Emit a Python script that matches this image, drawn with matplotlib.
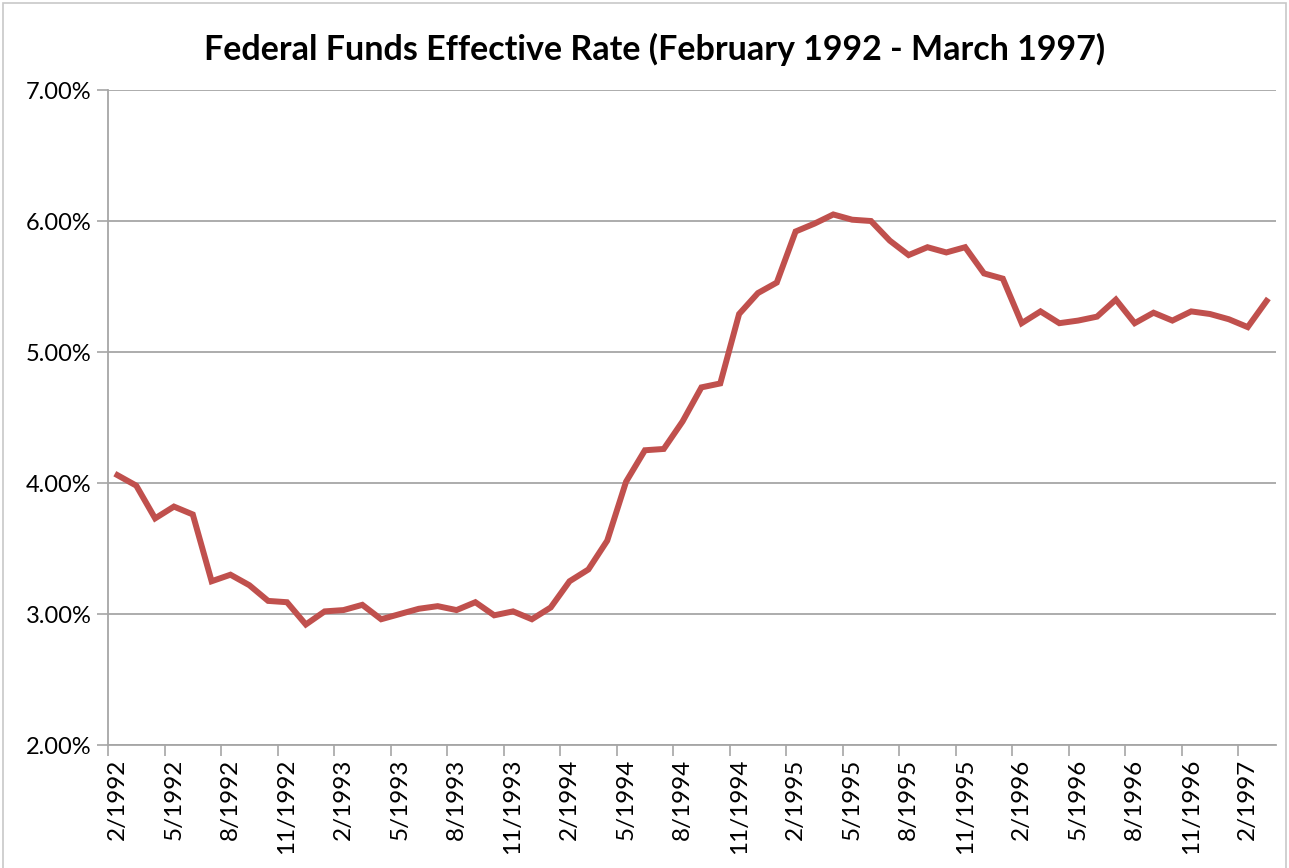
import matplotlib.pyplot as plt
from matplotlib.patches import Rectangle
from matplotlib.ticker import FixedLocator

plt.rcParams['font.family'] = ['Lato', 'DejaVu Sans']

# 월별 데이터 (2/1992 - 3/1997)
months = []
for y in range(1992, 1998):
    for m in range(1, 13):
        if (y == 1992 and m < 2) or (y == 1997 and m > 3):
            continue
        months.append(f"{m}/{y}")

rate = [4.06, 3.98, 3.73, 3.82, 3.76, 3.25, 3.30, 3.22, 3.10, 3.09, 2.92,
        3.02, 3.03, 3.07, 2.96, 3.00, 3.04, 3.06, 3.03, 3.09, 2.99, 3.02, 2.96,
        3.05, 3.25, 3.34, 3.56, 4.01, 4.25, 4.26, 4.47, 4.73, 4.76, 5.29, 5.45,
        5.53, 5.92, 5.98, 6.05, 6.01, 6.00, 5.85, 5.74, 5.80, 5.76, 5.80, 5.60,
        5.56, 5.22, 5.31, 5.22, 5.24, 5.27, 5.40, 5.22, 5.30, 5.24, 5.31, 5.29,
        5.25, 5.19, 5.39]

y_ticks = [2, 3, 4, 5, 6, 7]

fig = plt.figure(figsize=(12.89, 8.68), dpi=100)
ax = fig.add_axes([0.0838, 0.1417, 0.9061, 0.7546])

x = list(range(len(rate)))
ax.plot(x, rate, color='#C0504D', lw=4.3, solid_joinstyle='miter', zorder=3)

ax.set_xlim(-0.5, len(rate) - 0.5)
ax.set_ylim(2, 7)

# y축
ax.set_yticks(y_ticks)
ax.set_yticklabels([f"{v:.2f}%" for v in y_ticks])
ax.grid(axis='y', color='#a6a6a6', lw=1.3)
ax.set_axisbelow(True)

# x축: 라벨은 3개월마다, 눈금은 구간 경계에
lab_idx = list(range(0, len(rate), 3))
ax.set_xticks(lab_idx)
ax.set_xticklabels([months[i] for i in lab_idx], rotation=90)
ax.xaxis.set_minor_locator(FixedLocator([i - 0.5 for i in lab_idx]))
ax.tick_params(axis='x', which='major', length=0, labelsize=17.5, pad=10)
ax.tick_params(axis='x', which='minor', length=8, width=1.2, color='#a6a6a6')
ax.tick_params(axis='y', length=8, width=1.2, color='#a6a6a6', labelsize=17, pad=4)

for s in ['top', 'right']:
    ax.spines[s].set_visible(False)
for s in ['left', 'bottom']:
    ax.spines[s].set_color('#a6a6a6')
    ax.spines[s].set_linewidth(1.3)

fig.text(0.508, 0.943, 'Federal Funds Effective Rate (February 1992 - March 1997)',
         ha='center', va='center', fontsize=24.5, fontweight='bold')

# 차트 외곽선
fig.patches.append(Rectangle((0.0025, -0.01), 0.995, 1.0065, transform=fig.transFigure,
                             fill=False, edgecolor='#c8c8c8', lw=1.2))

plt.savefig('out.png', dpi=100)
